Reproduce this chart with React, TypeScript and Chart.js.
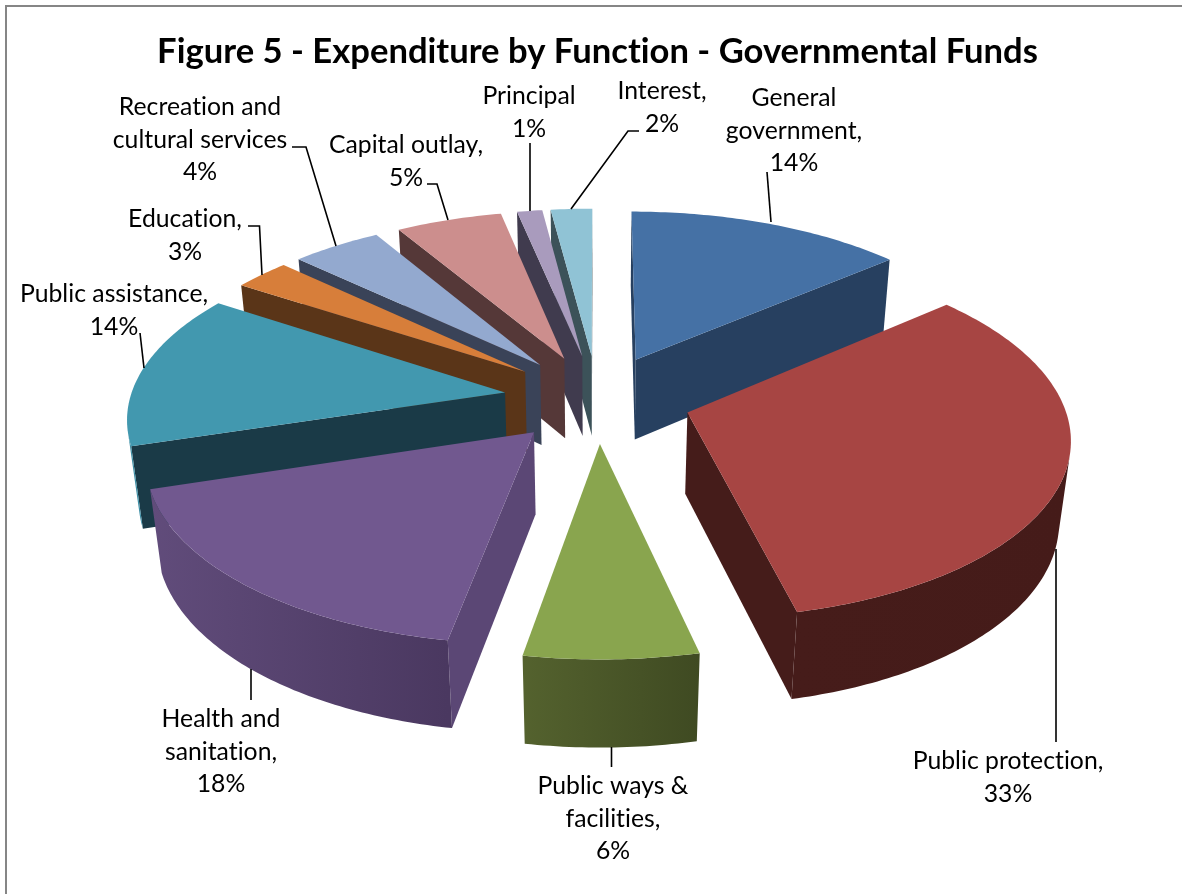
import React, { useEffect, useRef } from "react";
import { Chart, registerables } from "chart.js";

Chart.register(...registerables);

// ---- data ----
const categories = [
  "General government",
  "Public protection",
  "Public ways & facilities",
  "Health and sanitation",
  "Public assistance",
  "Education",
  "Recreation and cultural services",
  "Capital outlay",
  "Principal",
  "Interest",
];
const values = [13.75, 32.65, 6.4, 17.4, 14.0, 2.8, 4.45, 5.25, 1.25, 2.05];
const percentLabels = ["14%", "33%", "6%", "18%", "14%", "3%", "4%", "5%", "1%", "2%"];
const labelLines = [
  ["General", "government,"],
  ["Public protection,"],
  ["Public ways &", "facilities,"],
  ["Health and", "sanitation,"],
  ["Public assistance,"],
  ["Education,"],
  ["Recreation and", "cultural services"],
  ["Capital outlay,"],
  ["Principal"],
  ["Interest,"],
];
const titleText = "Figure 5 - Expenditure by Function - Governmental Funds";

// ---- styles ----
const topColors = ["#4571A5", "#A74543", "#89A54E", "#71588F", "#4298AF", "#D77E3A", "#93A9CF", "#CC8E8D", "#A99BBD", "#90C3D5"];
const radialWall = ["#274060", "#451C1A", "#4D5C2A", "#5B4775", "#1A3A47", "#5A3518", "#3A4358", "#553838", "#403B4E", "#3C5259"];
const rimFrom = ["#274060", "#461C1A", "#54622E", "#614C7B", "#3E8FA6", "#5A3518", "#3A4358", "#553838", "#403B4E", "#3C5259"];
const rimTo = ["#274060", "#451B19", "#3F4A22", "#4A3860", "#3E8FA6", "#5A3518", "#3A4358", "#553838", "#403B4E", "#3C5259"];
const paintOrder = [9, 8, 7, 6, 0, 5, 4, 1, 3, 2];

// ---- layout of the labels: centre x, first line centre y, leader polyline ----
const LINE = 32.7;
const labelLayout: { x: number; y: number; leader: number[][] }[] = [
  { x: 794, y: 98, leader: [[771, 222], [767, 172]] },
  { x: 1008, y: 761, leader: [[1056, 549], [1056, 742]] },
  { x: 613, y: 786, leader: [[611.5, 747], [611.5, 767]] },
  { x: 221, y: 719, leader: [[251, 669], [251, 700]] },
  { x: 114, y: 294, leader: [[144, 368], [140, 333]] },
  { x: 185, y: 219, leader: [[262, 275], [259.5, 226], [248, 226]] },
  { x: 200, y: 107, leader: [[336, 246], [306, 147], [292, 147]] },
  { x: 406, y: 145, leader: [[448, 220], [437, 184], [427, 184]] },
  { x: 529, y: 96, leader: [[530, 211], [530, 143]] },
  { x: 662, y: 91, leader: [[571, 209], [628, 131], [639, 131]] },
];
const FONT = "Lato";
const LABEL_SIZE = 25;
const LABEL_SQUEEZE = 0.99;

// perspective constants of the pie's plane
const K = 0.126; // vertical foreshortening with distance
const M = 0.025; // shrink of the bottom face
const FLAT = 0.469; // plane tilt
const DEPTH = 0.2213; // wall height, in radii

const pie3d = {
  id: "pie3d",
  beforeDraw(chart: any) {
    const { ctx, width } = chart;
    ctx.save();
    ctx.fillStyle = "#ffffff";
    ctx.fillRect(0, 0, width, chart.height);
    ctx.fillStyle = "#868686";
    ctx.fillRect(5, 5, width - 5, 2);
    ctx.fillRect(5, 5, 2, chart.height - 5);
    ctx.restore();
    // a hair of letter spacing turns the "ti" ligature off, as in the reference
    ctx.letterSpacing = "0.01px";
  },
  beforeDatasetsDraw(chart: any) {
    const { ctx } = chart;
    const arcs = chart.getDatasetMeta(0).data;
    const project = (arc: any, mid: number, r: number, angle: number, z: number) => {
      const R = arc.outerRadius;
      const e = arc.options.offset / R;
      const X = e * Math.cos(mid) + r * Math.cos(angle);
      const Y = e * Math.sin(mid) + r * Math.sin(angle);
      const w = 1 - K * Y + M * z;
      return [arc.x + (R * X) / w, arc.y + (R * (FLAT * Y + DEPTH * z)) / w];
    };
    const facesViewer = (a: number[], b: number[], c: number[]) =>
      (b[0] - a[0]) * (c[1] - a[1]) - (b[1] - a[1]) * (c[0] - a[0]) < 0;
    const poly = (pts: number[][], fill: any) => {
      ctx.beginPath();
      pts.forEach((p, n) => (n ? ctx.lineTo(p[0], p[1]) : ctx.moveTo(p[0], p[1])));
      ctx.closePath();
      ctx.fillStyle = fill;
      ctx.fill();
    };
    ctx.save();
    for (const i of paintOrder) {
      const arc = arcs[i];
      const s = arc.startAngle;
      const t = arc.endAngle;
      const mid = (s + t) / 2;
      const steps = Math.max(4, Math.ceil((t - s) / 0.015));
      const rim: number[][] = [];
      const rimLow: number[][] = [];
      for (let n = 0; n <= steps; n++) {
        const a = s + ((t - s) * n) / steps;
        rim.push(project(arc, mid, 1, a, 0));
        rimLow.push(project(arc, mid, 1, a, 1));
      }
      const apex = project(arc, mid, 0, 0, 0);
      const apexLow = project(arc, mid, 0, 0, 1);
      // radial walls
      if (facesViewer(apex, rim[0], apexLow)) poly([apex, rim[0], rimLow[0], apexLow], radialWall[i]);
      if (facesViewer(rim[steps], apex, rimLow[steps])) poly([rim[steps], apex, apexLow, rimLow[steps]], radialWall[i]);
      // rim wall: one polygon per run of segments that face the viewer
      const xs = rim.map((p) => p[0]);
      const grad = ctx.createLinearGradient(Math.min(...xs), 0, Math.max(...xs), 0);
      grad.addColorStop(0, rimFrom[i]);
      grad.addColorStop(1, rimTo[i]);
      let runStart = -1;
      for (let n = 0; n <= steps; n++) {
        const on = n < steps && facesViewer(rim[n], rim[n + 1], rimLow[n]);
        if (on && runStart < 0) runStart = n;
        if (!on && runStart >= 0) {
          poly([...rim.slice(runStart, n + 1), ...rimLow.slice(runStart, n + 1).reverse()], grad);
          runStart = -1;
        }
      }
      // top face
      poly([apex, ...rim], arc.options.backgroundColor);
    }
    ctx.restore();
    return false;
  },
  afterDraw(chart: any) {
    const { ctx } = chart;
    ctx.save();
    ctx.strokeStyle = "#000000";
    ctx.lineWidth = 1.6;
    ctx.fillStyle = "#000000";
    ctx.textAlign = "center";
    ctx.textBaseline = "middle";
    ctx.font = `${LABEL_SIZE}px ${FONT}`;
    labelLayout.forEach((l, i) => {
      ctx.beginPath();
      l.leader.forEach((p, n) => (n ? ctx.lineTo(p[0], p[1]) : ctx.moveTo(p[0], p[1])));
      ctx.stroke();
      [...labelLines[i], percentLabels[i]].forEach((text, n) => {
        ctx.save();
        ctx.translate(l.x, l.y + n * LINE);
        ctx.scale(LABEL_SQUEEZE, 1);
        ctx.fillText(text, 0, 0);
        ctx.restore();
      });
    });
    ctx.restore();
  },
};

export default function App() {
  const ref = useRef<HTMLCanvasElement | null>(null);
  useEffect(() => {
    const chart = new Chart(ref.current as HTMLCanvasElement, {
      type: "pie",
      data: {
        labels: categories,
        datasets: [
          {
            data: values,
            backgroundColor: topColors,
            borderWidth: 0,
            offset: 93.75,
            radius: 375,
          } as any,
        ],
      },
      options: {
        responsive: false,
        animation: false,
        layout: { padding: { left: 13, right: 0, top: 0, bottom: 169.5 } },
        plugins: {
          legend: { display: false },
          tooltip: { enabled: false },
          title: {
            display: true,
            text: titleText,
            color: "#000000",
            font: { family: FONT, size: 34.6, weight: "bold", lineHeight: 1.2 },
            padding: { top: 31, bottom: 0 },
          },
        },
      },
      plugins: [pie3d],
    } as any);
    return () => chart.destroy();
  }, []);
  return (
    <div style={{ position: "absolute", left: 0, top: 0, width: 1182, height: 894 }}>
      <canvas ref={ref} width={1182} height={894} style={{ display: "block" }} />
    </div>
  );
}
